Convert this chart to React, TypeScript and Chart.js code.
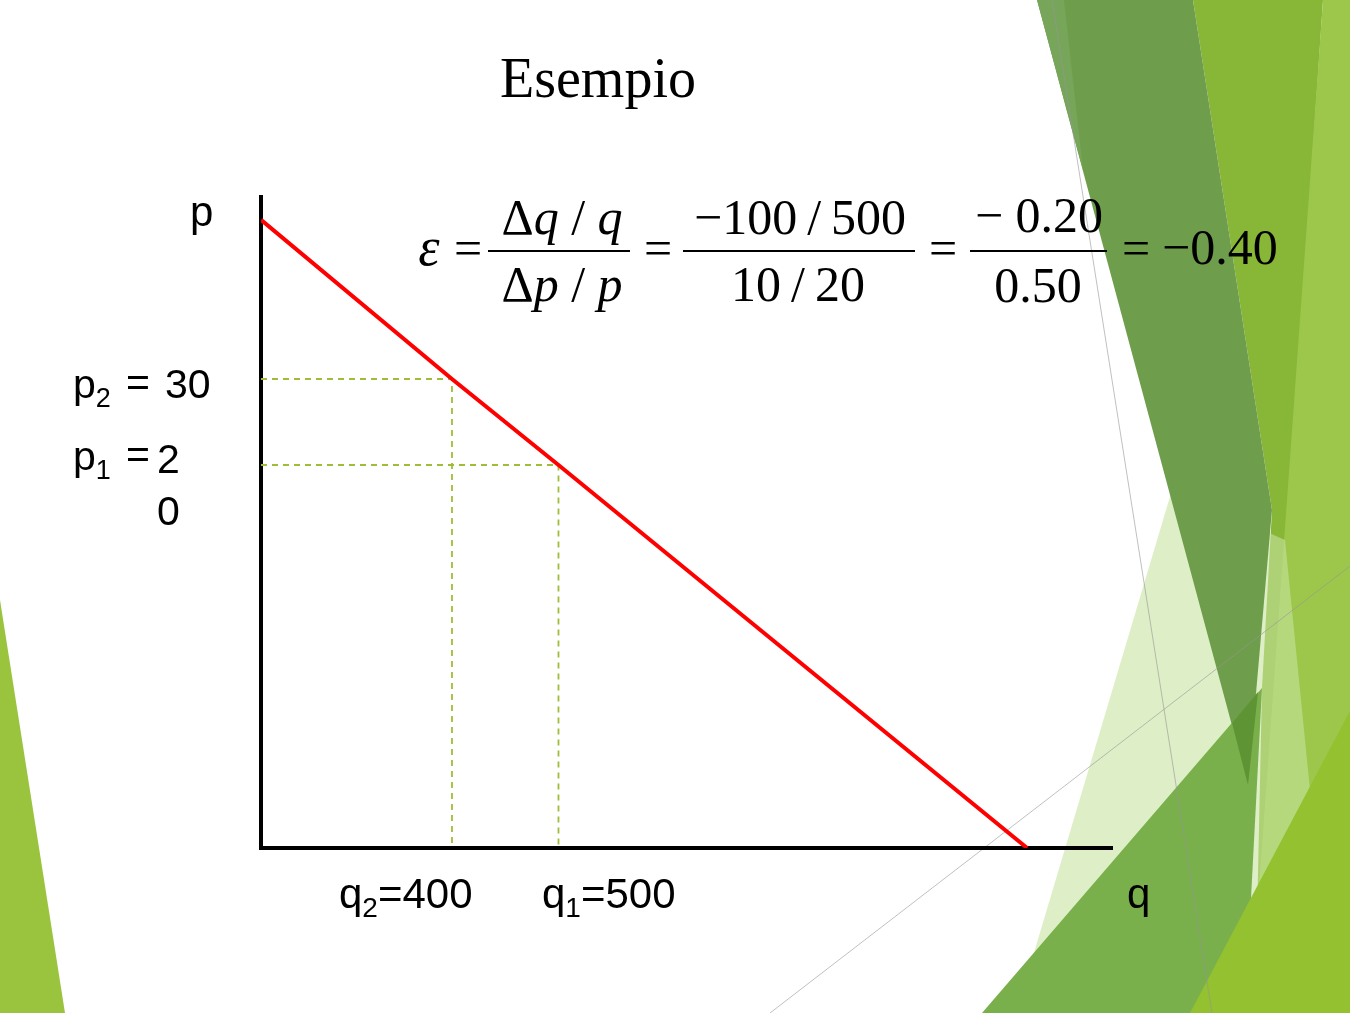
import { useEffect, useRef } from 'react';
import { Chart, registerables } from 'chart.js';

Chart.register(...registerables);

// Visible ranges of the two axes (quantity q, price p)
const qRange = [220.7, 1019.7];
const pRange = [-24.53, 51.16];

// Demand curve
const demandQ = [220.7, 400, 500, 940];
const demandP = [48.5, 30, 20, -24.53];

// The two observed points: (q2, p2) and (q1, p1)
const qPoints = [400, 500];
const pPoints = [30, 20];
const pointSubscripts = ['2', '1'];

const SANS = '"Liberation Sans", Arial, sans-serif';
const SERIF = '"Liberation Serif", "Times New Roman", serif';

type Pt = [number, number];

// Slide theme decoration (green facets)
const decor: { color: string; pts: Pt[] }[] = [
  { color: '#9bc43e', pts: [[0, 600], [65, 1013], [0, 1013]] },
  { color: '#88b637', pts: [[1193, 0], [1323, 0], [1255, 1013], [1262, 688], [1272, 510]] },
  { color: '#9cc74a', pts: [[1323, 0], [1350, 0], [1350, 1013], [1250, 1013]] },
  { color: 'rgba(200,226,160,0.6)', pts: [[1172, 490], [1285, 540], [1310, 790], [1290, 1013], [1016, 1013]] },
  { color: '#6e9d4c', pts: [[1037, 0], [1193, 0], [1272, 510], [1248, 785]] },
  { color: '#77a65a', pts: [[1037, 0], [1064, 0], [1083, 170]] },
  { color: '#79b04b', pts: [[1262, 688], [1245, 1013], [982, 1013]] },
  { color: '#5e9433', pts: [[1232, 723], [1258, 692], [1248, 785]] },
  { color: '#93c12f', pts: [[1190, 1013], [1350, 711], [1350, 1013]] },
];
const decorLines: Pt[][] = [
  [[1052, 0], [1212, 1013]],
  [[770, 1013], [1350, 566]],
];

const decorPlugin = {
  id: 'slideDecor',
  beforeDraw(chart: Chart) {
    const ctx = chart.ctx;
    ctx.save();
    for (const d of decor) {
      ctx.beginPath();
      d.pts.forEach(([x, y], i) => (i ? ctx.lineTo(x, y) : ctx.moveTo(x, y)));
      ctx.closePath();
      ctx.fillStyle = d.color;
      ctx.fill();
    }
    ctx.strokeStyle = 'rgba(150,150,150,0.6)';
    ctx.lineWidth = 1;
    for (const l of decorLines) {
      ctx.beginPath();
      ctx.moveTo(l[0][0], l[0][1]);
      ctx.lineTo(l[1][0], l[1][1]);
      ctx.stroke();
    }
    ctx.restore();
  },
};

type Run = [string, string];

function runsWidth(ctx: CanvasRenderingContext2D, runs: Run[]) {
  let w = 0;
  for (const [t, f] of runs) {
    ctx.font = f;
    w += ctx.measureText(t).width;
  }
  return w;
}

function drawRuns(ctx: CanvasRenderingContext2D, runs: Run[], cx: number, y: number) {
  let x = cx - runsWidth(ctx, runs) / 2;
  ctx.textAlign = 'left';
  for (const [t, f] of runs) {
    ctx.font = f;
    ctx.fillText(t, x, y);
    x += ctx.measureText(t).width;
  }
}

const textPlugin = {
  id: 'slideText',
  afterDraw(chart: Chart) {
    const ctx = chart.ctx;
    ctx.save();
    ctx.fillStyle = '#000';
    ctx.textBaseline = 'alphabetic';

    // Title
    ctx.font = `56px ${SERIF}`;
    ctx.textAlign = 'center';
    ctx.fillText('Esempio', 598, 97);

    // Axis names
    ctx.textAlign = 'left';
    ctx.font = `42px ${SANS}`;
    ctx.fillText('p', 190, 226);
    ctx.fillText('q', 1127, 908);

    // Quantity labels under the x axis
    const qLabelX = [339, 542];
    qPoints.forEach((q, i) => {
      let x = qLabelX[i];
      ctx.font = `42px ${SANS}`;
      ctx.fillText('q', x, 908);
      x += ctx.measureText('q').width;
      ctx.font = `28px ${SANS}`;
      ctx.fillText(pointSubscripts[i], x, 917);
      x += ctx.measureText(pointSubscripts[i]).width;
      ctx.font = `42px ${SANS}`;
      ctx.fillText('=' + q, x, 908);
    });

    // Price labels left of the y axis
    const pBase = [398, 470];
    const pValueX = [165, 157];
    pPoints.forEach((p, i) => {
      const y = pBase[i];
      ctx.font = `41px ${SANS}`;
      ctx.fillText('p', 73, y);
      const pw = ctx.measureText('p').width;
      ctx.font = `27px ${SANS}`;
      ctx.fillText(pointSubscripts[i], 73 + pw, y + 9);
      ctx.font = `41px ${SANS}`;
      ctx.fillText('=', 126, y - 2);
      const s = String(p);
      if (i === 0) {
        ctx.fillText(s, pValueX[i], y);
      } else {
        // narrow text box: value wraps onto a second line
        ctx.fillText(s.slice(0, 1), pValueX[i], y + 3);
        ctx.fillText(s.slice(1), pValueX[i], y + 55);
      }
    });

    // Elasticity formula
    const up = `50px ${SERIF}`;
    const it = `italic 50px ${SERIF}`;
    const barY = 251;
    const numY = 234;
    const denY = 301;
    const eqY = 265;

    ctx.font = `italic 54px ${SERIF}`;
    ctx.textAlign = 'center';
    ctx.fillText('\u03b5', 429, eqY);
    ctx.font = up;
    ctx.fillText('=', 468, eqY);
    ctx.fillText('=', 658, eqY);
    ctx.fillText('=', 943, eqY);
    ctx.fillText('=', 1136, eqY);

    ctx.fillRect(488, barY - 1, 142, 2);
    ctx.fillRect(683, barY - 1, 232, 2);
    ctx.fillRect(970, barY - 1, 137, 2);

    drawRuns(ctx, [['\u0394', up], ['q', it], [' / ', up], ['q', it]], 562, numY);
    drawRuns(ctx, [['\u0394', up], ['p', it], [' / ', up], ['p', it]], 562, denY);

    const dq = qPoints[0] - qPoints[1];
    const dp = pPoints[0] - pPoints[1];
    drawRuns(ctx, [[`\u2212${Math.abs(dq)}\u2009/\u2009${qPoints[1]}`, up]], 800, numY);
    drawRuns(ctx, [[`${dp}\u2009/\u2009${pPoints[1]}`, up]], 798, denY);

    const rq = dq / qPoints[1];
    const rp = dp / pPoints[1];
    drawRuns(ctx, [[`\u2212 ${Math.abs(rq).toFixed(2)}`, up]], 1039, numY - 2);
    drawRuns(ctx, [[rp.toFixed(2), up]], 1038, denY + 1);

    ctx.textAlign = 'left';
    ctx.font = up;
    ctx.fillText(`\u2212${Math.abs(rq / rp).toFixed(2)}`, 1162, eqY - 1);

    ctx.restore();
  },
};

export default function App() {
  const canvasRef = useRef<HTMLCanvasElement | null>(null);

  useEffect(() => {
    const canvas = canvasRef.current;
    if (!canvas) return;
    const guideStyle = {
      borderColor: '#a0bd38',
      borderWidth: 1.8,
      borderDash: [6, 5],
      pointRadius: 0,
      tension: 0,
      fill: false,
    };
    const chart = new Chart(canvas, {
      type: 'line',
      data: {
        datasets: [
          {
            label: 'Domanda',
            data: demandQ.map((q, i) => ({ x: q, y: demandP[i] })),
            borderColor: '#ff0000',
            borderWidth: 4,
            pointRadius: 0,
            tension: 0,
            fill: false,
          },
          ...qPoints.map((q, i) => ({
            label: `p${pointSubscripts[i]}`,
            data: [
              { x: qRange[0], y: pPoints[i] },
              { x: q, y: pPoints[i] },
              { x: q, y: pRange[0] },
            ],
            ...guideStyle,
          })),
        ],
      },
      options: {
        animation: false,
        responsive: false,
        devicePixelRatio: 1,
        layout: { padding: { left: 261, top: 197, right: 238, bottom: 165 } },
        plugins: { legend: { display: false }, tooltip: { enabled: false } },
        scales: {
          x: {
            type: 'linear',
            min: qRange[0],
            max: qRange[1],
            grid: { display: false, drawTicks: false },
            ticks: { display: false },
            border: { display: true, color: '#000', width: 4 },
          },
          y: {
            type: 'linear',
            min: pRange[0],
            max: pRange[1],
            grid: { display: false, drawTicks: false },
            ticks: { display: false },
            border: { display: true, color: '#000', width: 4 },
          },
        },
      },
      plugins: [decorPlugin, textPlugin],
    });
    return () => chart.destroy();
  }, []);

  return (
    <div style={{ position: 'absolute', left: 0, top: 0, width: 1350, height: 1013, background: '#fff' }}>
      <canvas ref={canvasRef} width={1350} height={1013} />
    </div>
  );
}
